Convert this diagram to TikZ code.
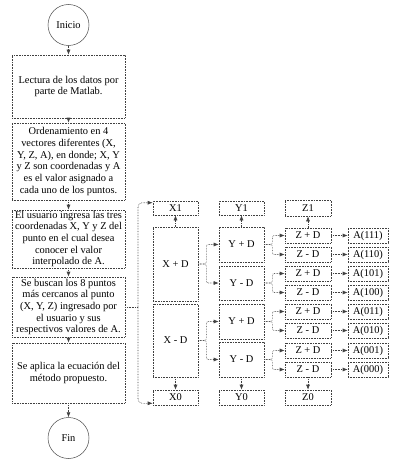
\documentclass[tikz,border=0pt]{standalone}
\usepackage{fontspec}
\setmainfont{Liberation Serif}
\usetikzlibrary{arrows.meta,calc}
\begin{document}
\begin{tikzpicture}[x=1pt,y=-1pt,
  ln/.style={draw=black!75, densely dotted, line width=0.6pt},
  box/.style={ln, rectangle, inner sep=0pt, align=center, font=\fontsize{10.4}{11.7}\selectfont},
  big/.style={box, minimum width=113pt},
  colx/.style={box, minimum width=45pt},
  colz/.style={box, minimum width=46pt, minimum height=15pt},
  cola/.style={box, minimum width=40pt, minimum height=15pt},
  term/.style={circle, draw=black!70, line width=0.5pt, inner sep=0pt, minimum size=41pt, font=\fontsize{10.4}{12}\selectfont},
  arr/.style={ln, -{Latex[length=5pt,width=4pt]}},
  br/.style={arr, rounded corners=2pt},
]
\useasboundingbox (0,0) rectangle (400,460);
% main column
\node[term] (ini) at (68.5,25) {Inicio};
\node[big, minimum height=63pt] (b1) at (68.5,86.5) {Lectura de los datos por\\parte de Matlab.};
\node[big, minimum height=77pt] (b2) at (68.5,161.5) {Ordenamiento en 4\\vectores diferentes (X,\\Y, Z, A), en donde; X, Y\\y Z son coordenadas y A\\es el valor asignado a\\cada uno de los puntos.};
\node[big, minimum height=58pt] (b3) at (68.5,239) {El usuario ingresa las tres\\coordenadas X, Y y Z del\\punto en el cual desea\\conocer el valor\\interpolado de A.};
\node[big, minimum height=60pt] (b4) at (68.5,307) {Se buscan los 8 puntos\\más cercanos al punto\\(X, Y, Z) ingresado por\\el usuario y sus\\respectivos valores de A.};
\node[big, minimum height=60pt] (b5) at (68.5,373) {Se aplica la ecuación del\\método propuesto.};
\node[term] (fin) at (68.5,438) {Fin};
\draw[arr] (ini) -- (b1);
\draw[arr] (b1) -- (b2);
\draw[arr] (b2) -- (b3);
\draw[arr] (b3) -- (b4);
\draw[arr] (b4) -- (b5);
\draw[arr] (b5) -- (fin);
% X column
\node[colx, minimum height=14pt] (x1) at (175.5,208) {X1};
\node[colx, minimum height=74pt] (xp) at (175.5,264) {X + D};
\node[colx, minimum height=73pt] (xm) at (175.5,340.5) {X - D};
\node[colx, minimum height=15pt] (x0) at (175.5,397.5) {X0};
\draw[arr] (xp) -- (x1);
\draw[arr] (xm) -- (x0);
\coordinate (bx) at (138,307);
\draw[ln] (b4.east) -- (bx);
\draw[arr, rounded corners=4pt] (bx) |- ([yshift=-2pt]x1.north west);
\draw[arr, rounded corners=4pt] (bx) |- ([yshift=2pt]x0.south west);
% Y column
\node[colx, minimum height=14pt] (y1) at (241.5,208) {Y1};
\node[colx, minimum height=35pt] (ya) at (241.5,244.5) {Y + D};
\node[colx, minimum height=34pt] (yb) at (241.5,283) {Y - D};
\node[colx, minimum height=35pt] (yc) at (241.5,321.5) {Y + D};
\node[colx, minimum height=35pt] (yd) at (241.5,359.5) {Y - D};
\node[colx, minimum height=15pt] (y0) at (241.5,397.5) {Y0};
\draw[arr] (ya) -- (y1);
\draw[arr] (yd) -- (y0);
\draw[br] (xp.east) -- ++(8,0) |- (ya.west);
\draw[br] (xp.east) -- ++(8,0) |- (yb.west);
\draw[br] (xm.east) -- ++(8,0) |- (yc.west);
\draw[br] (xm.east) -- ++(8,0) |- (yd.west);
% Z column
\node[colz, minimum height=16pt] (z1) at (308,208) {Z1};
\node[colz] (za) at (308,235.5) {Z + D};
\node[colz] (zb) at (308,254.5) {Z - D};
\node[colz] (zc) at (308,273.5) {Z + D};
\node[colz] (zd) at (308,292.5) {Z - D};
\node[colz] (ze) at (308,311.5) {Z + D};
\node[colz] (zf) at (308,330.5) {Z - D};
\node[colz] (zg) at (308,350.5) {Z + D};
\node[colz] (zh) at (308,369.5) {Z - D};
\node[colz] (z0) at (308,397.5) {Z0};
\draw[arr] (za) -- (z1);
\draw[arr] (zh) -- (z0);
\draw[br] (ya.east) -- ++(8,0) |- (za.west);
\draw[br] (ya.east) -- ++(8,0) |- (zb.west);
\draw[br] (yb.east) -- ++(8,0) |- (zc.west);
\draw[br] (yb.east) -- ++(8,0) |- (zd.west);
\draw[br] (yc.east) -- ++(8,0) |- (ze.west);
\draw[br] (yc.east) -- ++(8,0) |- (zf.west);
\draw[br] (yd.east) -- ++(8,0) |- (zg.west);
\draw[br] (yd.east) -- ++(8,0) |- (zh.west);
% A column
\node[cola] (aa) at (368,235.5) {A(111)};
\node[cola] (ab) at (368,254.5) {A(110)};
\node[cola] (ac) at (368,273.5) {A(101)};
\node[cola] (ad) at (368,292.5) {A(100)};
\node[cola] (ae) at (368,311.5) {A(011)};
\node[cola] (af) at (368,330.5) {A(010)};
\node[cola] (ag) at (368,350.5) {A(001)};
\node[cola] (ah) at (368,369.5) {A(000)};
\draw[arr] (za) -- (aa);
\draw[arr] (zb) -- (ab);
\draw[arr] (zc) -- (ac);
\draw[arr] (zd) -- (ad);
\draw[arr] (ze) -- (ae);
\draw[arr] (zf) -- (af);
\draw[arr] (zg) -- (ag);
\draw[arr] (zh) -- (ah);
\end{tikzpicture}
\end{document}
